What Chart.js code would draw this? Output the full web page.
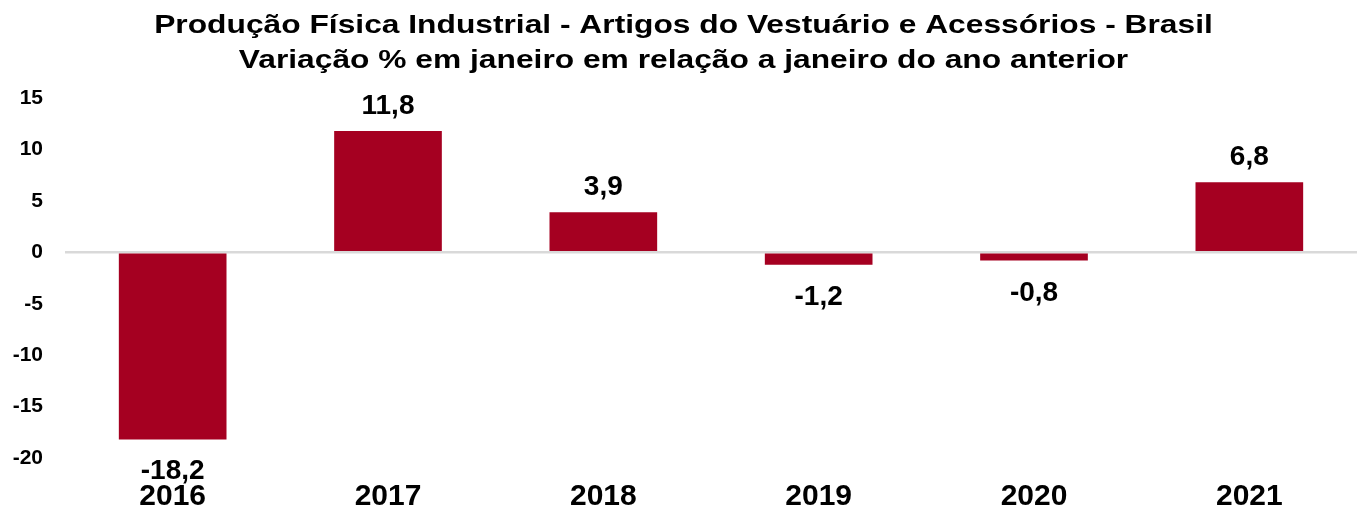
<!DOCTYPE html>
<html lang="pt-BR">
<head>
    <meta charset="UTF-8">
    <title>Produção Física Industrial - Vestuário</title>
    <script src="https://cdn.jsdelivr.net/npm/chart.js"></script>
    <style>
        body { margin: 0; background: #fff; }
        #wrap { width: 1367px; height: 513px; }
    </style>
</head>
<body>
    <div id="wrap"><canvas id="chart"></canvas></div>

    <script>
        const anos = ['2016', '2017', '2018', '2019', '2020', '2021'];
        const variacao = [-18.2, 11.8, 3.9, -1.2, -0.8, 6.8];
        const titulo = [
            'Produção Física Industrial - Artigos do Vestuário e Acessórios - Brasil',
            'Variação % em janeiro em relação a janeiro do ano anterior'
        ];

        const fonte = "'Liberation Sans', Arial, sans-serif";

        // título desenhado à mão: no original ele aparece esticado na horizontal
        const tituloLargo = {
            id: 'tituloLargo',
            afterDraw(chart) {
                const ctx = chart.ctx;
                const cx = chart.width / 2;
                ctx.save();
                ctx.font = 'bold 25px ' + fonte;
                ctx.fillStyle = '#000';
                ctx.textAlign = 'center';
                ctx.textBaseline = 'alphabetic';
                ctx.translate(cx, 0);
                ctx.scale(1.27, 1);
                ctx.fillText(titulo[0], 0, 33);
                ctx.fillText(titulo[1], 0, 68);
                ctx.restore();
            }
        };

        // rótulos de valor acima/abaixo das barras
        const rotulos = {
            id: 'rotulos',
            afterDatasetsDraw(chart) {
                const ctx = chart.ctx;
                const meta = chart.getDatasetMeta(0);
                ctx.save();
                ctx.font = 'bold 28px ' + fonte;
                ctx.fillStyle = '#000';
                ctx.textAlign = 'center';
                ctx.textBaseline = 'alphabetic';
                meta.data.forEach((bar, i) => {
                    const v = variacao[i];
                    const txt = v.toFixed(1).replace('.', ',');
                    if (v >= 0) {
                        ctx.fillText(txt, bar.x, bar.y - 17);
                    } else {
                        ctx.fillText(txt, bar.x, bar.y + 40);
                    }
                });
                ctx.restore();
            }
        };

        new Chart(document.getElementById('chart'), {
            type: 'bar',
            data: {
                labels: anos,
                datasets: [{
                    data: variacao,
                    backgroundColor: '#a50021',
                    barPercentage: 0.5,
                    categoryPercentage: 1
                }]
            },
            options: {
                responsive: true,
                maintainAspectRatio: false,
                animation: false,
                layout: { padding: { top: 98, right: 10, bottom: 3, left: 0 } },
                plugins: {
                    legend: { display: false },
                    tooltip: { enabled: false },
                    title: { display: false }
                },
                scales: {
                    x: {
                        afterFit(s) { s.height = 52; },
                        grid: { display: false },
                        border: { display: false },
                        ticks: {
                            color: '#000',
                            padding: 16,
                            font: { family: fonte, size: 30, weight: 'bold', lineHeight: 1 }
                        }
                    },
                    y: {
                        min: -20,
                        max: 15,
                        afterFit(s) { s.width = 65; },
                        border: { display: false },
                        grid: {
                            drawTicks: false,
                            lineWidth: 2.5,
                            color: c => c.tick && c.tick.value === 0 ? '#d9d9d9' : 'rgba(0,0,0,0)'
                        },
                        ticks: {
                            stepSize: 5,
                            color: '#000',
                            padding: 22,
                            font: { family: fonte, size: 21, weight: 'bold' }
                        }
                    }
                }
            },
            plugins: [rotulos, tituloLargo]
        });
    </script>
</body>
</html>
